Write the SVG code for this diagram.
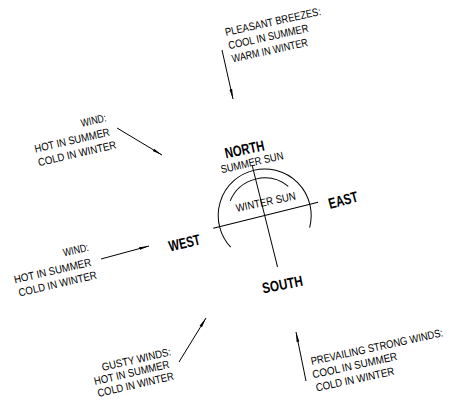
<svg xmlns="http://www.w3.org/2000/svg" width="462" height="405" viewBox="0 0 462 405">
<style>
.t{font-family:"Liberation Sans",Arial,sans-serif;font-size:11px;fill:#000}
.b{font-family:"Liberation Sans",Arial,sans-serif;font-size:15px;font-weight:bold;fill:#000}
.ln{stroke:#000;stroke-width:1;fill:none}
.ar{stroke:#000;stroke-width:1;fill:none;marker-end:url(#ah)}
</style>
<defs>
<marker id="ah" viewBox="0 0 10 4" refX="10" refY="2" markerWidth="10" markerHeight="4" markerUnits="userSpaceOnUse" orient="auto">
<path d="M0,0.6 L10,2 L0,3.4 Z" fill="#000"/>
</marker>
</defs>
<rect width="462" height="405" fill="#fff"/>

<g id="compass" transform="translate(264.7,215.5) rotate(-14)">
<line class="ln" x1="-53" y1="0" x2="55" y2="0"/>
<line class="ln" x1="0" y1="-51" x2="0" y2="53"/>
<path class="ln" d="M-40.67,22.54 A46.5,46.5 0 1 1 40.67,22.54"/>
<path class="ln" d="M-29.95,-22.57 A37.5,37.5 0 0 1 29.95,-22.57"/>
</g>

<g id="north" transform="translate(226,158.5) rotate(-12) scale(0.75,1)"><text class="b" x="0" y="0">NORTH</text></g>
<g id="summer-sun" transform="translate(221.7,173.3) rotate(-13) scale(0.851,1)"><text class="t" x="0" y="0">SUMMER SUN</text></g>
<g id="winter-sun" transform="translate(236.7,212) rotate(-12) scale(0.875,1)"><text class="t" x="0" y="0">WINTER SUN</text></g>
<g id="west" transform="translate(170,251.5) rotate(-13) scale(0.74,1)"><text class="b" x="0" y="0">WEST</text></g>
<g id="east" transform="translate(330,209) rotate(-15) scale(0.75,1)"><text class="b" x="0" y="0">EAST</text></g>
<g id="south" transform="translate(263.3,293.5) rotate(-11) scale(0.78,1)"><text class="b" x="0" y="0">SOUTH</text></g>

<g id="pleasant-breezes" transform="translate(226,36) rotate(-12.5)">
<g transform="scale(0.853,1)"><text class="t" x="0" y="0">PLEASANT BREEZES:</text></g>
<g transform="translate(0.4,13.7) scale(0.844,1)"><text class="t" x="0" y="0">COOL IN SUMMER</text></g>
<g transform="translate(0.8,27.4) scale(0.818,1)"><text class="t" x="0" y="0">WARM IN WINTER</text></g>
</g>

<g id="wind-upper" transform="translate(81.7,127) rotate(-13)">
<g transform="scale(0.8,1)"><text class="t" x="0" y="0">WIND:</text></g>
<g transform="translate(-50.8,14.6) scale(0.863,1)"><text class="t" x="0" y="0">HOT IN SUMMER</text></g>
<g transform="translate(-50.5,28.6) scale(0.878,1)"><text class="t" x="0" y="0">COLD IN WINTER</text></g>
</g>

<g id="wind-lower" transform="translate(64,256.5) rotate(-13)">
<g transform="scale(0.8,1)"><text class="t" x="0" y="0">WIND:</text></g>
<g transform="translate(-53.8,15.2) scale(0.886,1)"><text class="t" x="0" y="0">HOT IN SUMMER</text></g>
<g transform="translate(-52.3,29.0) scale(0.878,1)"><text class="t" x="0" y="0">COLD IN WINTER</text></g>
</g>

<g id="gusty-winds" transform="translate(102.7,371) rotate(-13)">
<g transform="scale(0.88,1)"><text class="t" x="0" y="0">GUSTY WINDS:</text></g>
<g transform="translate(-10.6,12.0) scale(0.863,1)"><text class="t" x="0" y="0">HOT IN SUMMER</text></g>
<g transform="translate(-10.0,24.4) scale(0.856,1)"><text class="t" x="0" y="0">COLD IN WINTER</text></g>
</g>

<g id="prevailing-winds" transform="translate(311.7,365) rotate(-12.3)">
<g transform="scale(0.856,1)"><text class="t" x="0" y="0">PREVAILING STRONG WINDS:</text></g>
<g transform="translate(-1.3,13.3) scale(0.895,1)"><text class="t" x="0" y="0">COOL IN SUMMER</text></g>
<g transform="translate(-0.8,27.0) scale(0.878,1)"><text class="t" x="0" y="0">COLD IN WINTER</text></g>
</g>

<g id="connectors">
<line class="ar" x1="222" y1="50" x2="233" y2="99"/>
<line class="ar" x1="117" y1="128" x2="162" y2="155"/>
<line class="ar" x1="101" y1="259" x2="149" y2="246"/>
<line class="ar" x1="179" y1="362" x2="206" y2="318"/>
<line class="ar" x1="306" y1="381" x2="296" y2="332"/>
</g>
</svg>
